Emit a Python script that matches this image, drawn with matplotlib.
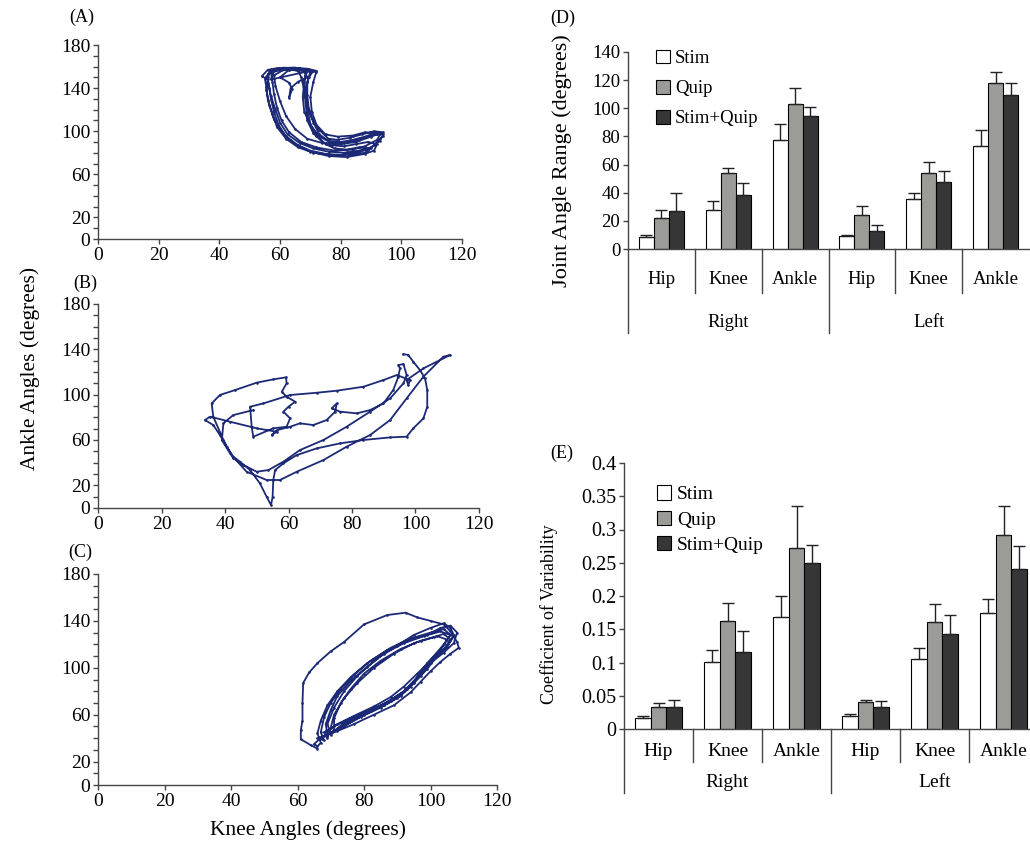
#! /usr/bin/env python3
"""
Knee/ankle angle-angle plots (A-C) and joint angle range /
coefficient of variability bar charts (D, E).
"""

import numpy as np
import matplotlib
matplotlib.use('Agg')
import matplotlib.pyplot as plt
from matplotlib.patches import Patch
from matplotlib.transforms import blended_transform_factory

plt.rcParams['font.family'] = ['Liberation Serif', 'DejaVu Serif']

LOOP = '#1c2a76'
AXC = '#454545'

# (A)-(C) knee angle vs ankle angle (degrees)
trace_a = [
    (72, 156), (69, 158), (64, 159), (59, 158.5), (56, 157), (54, 151),
    (56, 148), (56.5, 140), (57, 130), (58, 118), (59.5, 106), (62, 95),
    (66, 87), (70, 82), (75, 79), (80, 78), (85, 80), (89, 83), (91, 87),
    (94, 96), (94, 99), (91, 100), (87, 97), (83, 94), (79, 92), (76, 93),
    (73, 101), (70.5, 112), (69, 125), (68.5, 138), (69.5, 150), (71, 156),
    (70, 157), (66, 158), (60, 157), (57, 155), (57.5, 146), (58, 135),
    (59, 122), (60.5, 110), (63, 99), (67, 90), (72, 85), (78, 82),
    (84, 83), (88, 86), (92, 92), (93, 97), (90, 96), (86, 92), (81, 89),
    (77, 89), (73, 95), (70, 106), (68, 118), (67.5, 132), (68, 146),
    (68.5, 155), (67, 157), (62, 158), (57, 157), (56, 150), (55.5, 138),
    (56.5, 124), (58, 111), (61, 98), (65, 88), (70, 81), (76, 77),
    (82, 76), (88, 79), (91, 82), (92, 88), (89, 90), (85, 88), (81, 86),
    (77, 87), (74, 90), (71, 98), (69, 110), (68.5, 124), (68, 138),
    (67, 150), (66, 156), (62, 158), (58, 152), (58.5, 142), (60, 128),
    (62, 114), (65, 102), (69, 93), (74, 89), (80, 88), (85, 90), (90, 95),
    (93, 98), (88, 99), (84, 96), (79, 95), (75, 97), (72, 106),
    (70.5, 118), (70, 132), (71, 146), (72, 155), (68, 157), (63, 157),
    (60, 150), (63, 145), (64, 139), (63, 131), (63.5, 140), (66, 146),
    (69, 150), (68, 156), (63, 157), (58, 156), (57, 148),
    (70, 156), (65, 159), (60, 158), (56, 153), (56, 145), (57, 133),
    (58.5, 120), (60, 108), (62.5, 97), (66.5, 89), (71, 84), (76, 81),
    (81, 80), (86, 82), (90, 85), (93, 91), (94, 97), (92, 99), (88, 95),
    (84, 92), (80, 90), (76, 91), (73, 97), (71, 108), (69.5, 120),
    (69, 134), (69, 146), (70, 155), (67, 158), (61, 159), (57, 156),
    (55, 149), (55.5, 141), (56, 129), (57.5, 116), (59, 104), (62, 93),
    (66, 85), (71, 80), (77, 78), (83, 78), (88, 80), (90, 84), (86, 85),
    (82, 83), (78, 84), (75, 88), (72, 96), (70, 107), (69, 121),
    (68.5, 135), (68, 148), (69, 156),
]

trace_b = [
    (96.2, 135.8), (97.7, 135), (99.3, 129.1), (101.4, 121.7),
    (103.0, 114.4), (103.7, 104.1), (103.7, 89.4), (102.5, 79.1),
    (99.3, 70.3), (97.2, 62.9), (92.0, 62.3), (83.6, 60), (76.2, 57),
    (68.9, 52.6), (62.6, 46.7), (58.4, 39.4), (55.8, 33.5), (55.2, 24.7),
    (55.0, 10), (54.5, 2.6), (53.1, 10), (51.0, 21.7), (47.9, 33.5),
    (44.7, 40.9), (42.6, 45.3), (40.5, 54.1), (38.4, 64.4), (36.3, 73.2),
    (33.7, 77.6), (35.3, 80.6), (41.6, 76.1), (50.0, 70.3), (56.3, 67.3),
    (54.7, 64.4), (56.5, 68.8), (60.5, 71.7), (63.6, 74.7), (67.8, 73.2),
    (72.0, 77.6), (74.7, 85), (75.2, 92.3), (73.6, 87.9), (76.2, 85),
    (81.5, 83.5), (85.7, 86.4), (89.9, 92.3), (93.0, 104.1),
    (94.6, 115.9), (95.1, 123.2), (94.6, 126.1), (96.2, 127),
    (97.2, 117.3), (96.2, 110), (92.0, 96.7), (85.7, 85), (78.3, 71.7),
    (71.0, 60), (63.6, 51.1), (58.4, 40.9), (53.7, 33.5), (50.0, 32),
    (45.8, 37.9), (42.6, 43.8), (39.5, 60), (36.3, 80.6), (35.8, 92.3),
    (38.4, 99.7), (43.2, 104.1), (50.0, 110.6), (55.2, 113.5),
    (59.2, 115.3), (59.4, 110), (57.9, 102.6), (59.4, 98.2), (62.1, 93.8),
    (60.0, 89.4), (58.4, 85), (60.5, 79.1), (59.4, 71.7), (55.2, 70.3),
    (48.9, 62.9), (48.4, 71.7), (47.9, 89.4), (52.1, 92.3), (60.5, 99.7),
    (68.9, 101.7), (75.2, 103.5), (83.6, 107), (89.9, 112.9),
    (94.1, 117.3), (98.3, 112.9), (97.7, 108.5), (97.2, 112.9),
    (102.5, 123.2), (110.9, 135), (108.8, 133.5), (102.5, 115.9),
    (97.2, 96.7), (92.0, 77.6), (85.7, 64.4), (78.3, 54.1), (71.0, 42.3),
    (62.6, 32), (57.3, 24.7), (53.1, 24.7), (46.8, 32), (41.6, 48.2),
    (39.0, 60), (39.5, 74.7), (42.6, 82), (48.9, 86.4),
]

trace_c = [
    (66, 31), (64, 34), (61, 39), (61, 47), (61.5, 55), (61.5, 70),
    (61.7, 87), (63.5, 96), (66, 104), (70, 114), (74, 122), (80, 137),
    (87, 145), (92.5, 147), (96, 143), (100, 140), (104, 137), (106, 131),
    (108, 122), (108.5, 117), (106, 112), (103, 105), (100, 97), (97, 88),
    (94, 79), (89, 68), (83, 60), (77, 52), (72, 46), (68, 42), (66, 40),
    (68, 38), (67, 45), (68, 58), (70, 70), (73, 82), (77, 94), (82, 106),
    (88, 117), (94, 125), (100, 130), (104, 133), (106, 128), (104, 120),
    (101, 110), (98, 100), (95, 88), (91, 77), (86, 68), (80, 60),
    (74, 50), (70, 45), (69, 42), (68.5, 52), (70, 64), (72, 76),
    (76, 89), (81, 101), (86, 112), (92, 121), (98, 127), (103, 131),
    (107, 127), (105, 118), (101, 108), (97, 96), (94, 84), (90, 74),
    (85, 66), (79, 58), (73, 49), (70, 44), (71, 47), (71, 57), (73, 70),
    (76, 82), (80, 95), (85, 106), (91, 116), (97, 123), (102, 127),
    (105, 124), (103, 115), (99, 104), (96, 92), (92, 80), (87, 71),
    (82, 63), (76, 55), (72, 48), (70, 43), (69, 52), (71, 66), (74, 80),
    (78, 93), (84, 108), (90, 119), (95, 128), (100, 134), (104, 138),
    (106, 134), (107, 128), (105, 118), (102, 110), (99, 99), (95, 87),
    (91, 76), (86, 68), (80, 61), (74, 53), (71, 46), (67, 40), (65, 35),
    (66, 33), (67, 36), (66, 44), (67, 55), (69, 68), (72, 80), (76, 92),
    (81, 104), (87, 115), (93, 123), (99, 128), (103, 134), (106, 136),
    (108, 130), (107, 121), (104, 113), (100, 104), (97, 93), (93, 82),
    (88, 72), (82, 64), (76, 57), (71, 50), (68, 45), (69, 40), (70, 49),
    (71, 60), (74, 74), (78, 87), (83, 100), (89, 112), (95, 121),
    (101, 126), (104, 129), (106, 124), (104, 116), (100, 106), (96, 95),
    (92, 84), (88, 75), (83, 67), (77, 59), (72, 52), (69, 46),
]

ytick_show = [0, 20, 60, 100, 140, 180]

# (D), (E) bar charts
joints = ['Hip', 'Knee', 'Ankle', 'Hip', 'Knee', 'Ankle']
sides = ['Right', 'Left']
groups = ['Stim', 'Quip', 'Stim+Quip']
bar_colors = ['white', '#9b9b97', '#363636']

range_stim = [8.3, 28, 77.7, 9.2, 35.8, 73.5]
range_quip = [21.8, 54, 103, 24.2, 54, 118]
range_both = [26.8, 38.2, 94.5, 13, 47.4, 109.5]
range_stim_err = [1.4, 6, 11.3, 0.8, 4.2, 11.1]
range_quip_err = [5.9, 3.6, 11.5, 6.1, 7.8, 8]
range_both_err = [13.2, 8.8, 6.5, 4, 8.1, 8.5]

cv_stim = [0.0165, 0.101, 0.169, 0.020, 0.106, 0.174]
cv_quip = [0.0336, 0.163, 0.272, 0.040, 0.161, 0.291]
cv_both = [0.0326, 0.116, 0.249, 0.0326, 0.143, 0.240]
cv_stim_err = [0.003, 0.018, 0.0305, 0.003, 0.016, 0.022]
cv_quip_err = [0.005, 0.027, 0.063, 0.0036, 0.027, 0.044]
cv_both_err = [0.0114, 0.032, 0.028, 0.0094, 0.028, 0.035]

cv_ticks = [0, 0.05, 0.1, 0.15, 0.2, 0.25, 0.3, 0.35, 0.4]
cv_ticklabels = ['0', '0.05', '0.1', '0.15', '0.2', '0.25', '0.3', '0.35', '0.4']


def px_axes(fig, x0, y0, x1, y1):
    # pixel box (top-left origin) -> figure axes
    W, H = 1030.0, 851.0
    return fig.add_axes([x0 / W, (H - y1) / H, (x1 - x0) / W, (y1 - y0) / H])


def loop_panel(ax, trace):
    x, y = zip(*trace)
    ax.plot(x, y, color=LOOP, lw=1.3, marker='.', ms=1.8)
    ax.set_xlim(0, 120)
    ax.set_ylim(0, 180)
    ax.set_xticks(range(0, 121, 20))
    yt = list(range(0, 181, 10))
    ax.set_yticks(yt)
    ax.set_yticklabels([str(v) if v in ytick_show else '' for v in yt])
    for s in ['top', 'right']:
        ax.spines[s].set_visible(False)
    for s in ['left', 'bottom']:
        ax.spines[s].set_color(AXC)
        ax.spines[s].set_linewidth(1.0)
    ax.tick_params(direction='out', length=3.5, width=1.0, color=AXC,
                   labelsize=14, pad=2)
    return None


def bar_panel(ax, vals, errs, fs_tick):
    x = np.arange(6) + 0.5
    w = 0.225
    for k in range(3):
        ax.bar(x + (k - 1) * w, vals[k], w, color=bar_colors[k],
               edgecolor='black', linewidth=0.8,
               yerr=[np.zeros(6), errs[k]], capsize=4,
               error_kw=dict(elinewidth=1.0, ecolor='#222222', capthick=1.0))
    ax.set_xlim(0, 6)
    ax.set_xticks([])
    for s in ['top', 'right']:
        ax.spines[s].set_visible(False)
    for s in ['left', 'bottom']:
        ax.spines[s].set_color(AXC)
        ax.spines[s].set_linewidth(1.0)
    ax.tick_params(axis='y', direction='out', length=3.5, width=1.0,
                   color=AXC, labelsize=fs_tick, pad=2)
    handles = [Patch(facecolor=c, edgecolor='black', linewidth=0.8)
               for c in bar_colors]
    return handles


def group_axis(ax, short, long, lab_y, side_y, fs, nlines):
    tr = blended_transform_factory(ax.transData, ax.transAxes)
    for k in range(nlines):
        ln = long if k % 3 == 0 else short
        ax.plot([k, k], [0, -ln], transform=tr, color=AXC, lw=1.0,
                clip_on=False)
    for k, j in enumerate(joints):
        ax.text(k + 0.5, -lab_y, j, transform=tr, ha='center',
                va='center', fontsize=fs)
    for k, s in enumerate(sides):
        ax.text(1.5 + 3 * k, -side_y, s, transform=tr, ha='center',
                va='center', fontsize=fs)
    return None


fig = plt.figure(figsize=(10.3, 8.51), dpi=100)

ax_a = px_axes(fig, 98, 45, 462, 239)
ax_b = px_axes(fig, 98, 304, 479, 508)
ax_c = px_axes(fig, 98, 574, 497, 785)
loop_panel(ax_a, trace_a)
loop_panel(ax_b, trace_b)
loop_panel(ax_c, trace_c)

fig.text(0.029, 0.567, 'Ankle Angles (degrees)', rotation=90,
         ha='center', va='center', fontsize=15.5)
fig.text(0.299, 0.025, 'Knee Angles (degrees)', ha='center',
         va='center', fontsize=15.5)

# (D) joint angle range
ax_d = px_axes(fig, 628, 52, 1029, 249)
h = bar_panel(ax_d, [range_stim, range_quip, range_both],
              [range_stim_err, range_quip_err, range_both_err], 13.5)
ax_d.set_ylim(0, 140)
ax_d.set_yticks(range(0, 141, 20))
ax_d.set_ylabel('Joint Angle Range (degrees)', fontsize=16)
ax_d.yaxis.set_label_coords(-0.14, 0.45)
ax_d.legend(h, groups, loc='upper left', bbox_to_anchor=(0.05, 1.05),
            frameon=False, fontsize=13.5, handlelength=0.75,
            handleheight=0.75, handletextpad=0.3, labelspacing=0.68,
            borderaxespad=0)
group_axis(ax_d, 0.223, 0.426, 0.157, 0.371, 13.5, 6)

# (E) coefficient of variability
ax_e = px_axes(fig, 624, 463, 1038, 729)
h = bar_panel(ax_e, [cv_stim, cv_quip, cv_both],
              [cv_stim_err, cv_quip_err, cv_both_err], 14.5)
ax_e.set_ylim(0, 0.4)
ax_e.set_yticks(cv_ticks)
ax_e.set_yticklabels(cv_ticklabels)
ax_e.set_ylabel('Coefficient of Variability', fontsize=13)
ax_e.yaxis.set_label_coords(-0.16, 0.43)
ax_e.legend(h, groups, loc='upper left', bbox_to_anchor=(0.06, 0.945),
            frameon=False, fontsize=14, handlelength=0.75,
            handleheight=0.75, handletextpad=0.3, labelspacing=0.38,
            borderaxespad=0)
group_axis(ax_e, 0.124, 0.241, 0.086, 0.203, 14, 7)

for lab, xf, yf in [('(A)', 0.0796, 0.980), ('(B)', 0.0825, 0.6675),
                    ('(C)', 0.0777, 0.3513), ('(D)', 0.5466, 0.9788),
                    ('(E)', 0.5456, 0.4677)]:
    fig.text(xf, yf, lab, ha='center', va='center', fontsize=13)

fig.savefig('out.png', dpi=100)
